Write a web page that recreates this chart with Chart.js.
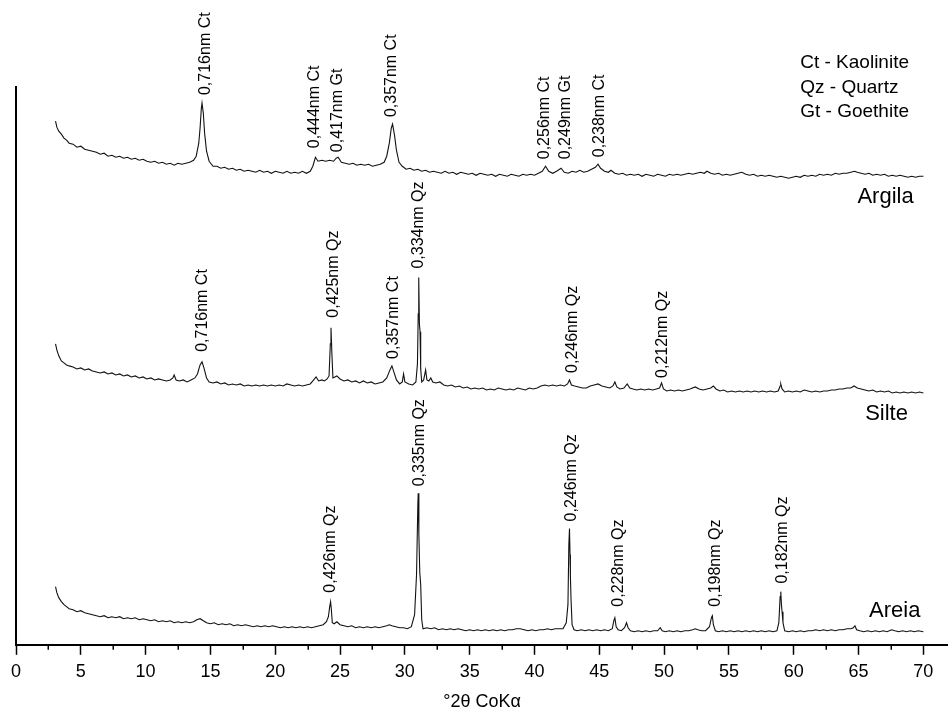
<!DOCTYPE html>
<html lang="pt-BR">
<head>
<meta charset="UTF-8">
<title>DRX - Argila, Silte e Areia</title>
<script src="https://cdn.jsdelivr.net/npm/chart.js@4.4.0/dist/chart.umd.min.js"></script>
<style>
    body { margin: 0; background: #ffffff; }
    #caixa { width: 948px; height: 713px; }
</style>
</head>
<body>
<div id="caixa"><canvas id="graficoDRX"></canvas></div>
<script>
// Difratogramas: [°2θ, intensidade relativa]
let argila = [[3.05,522],[3.15,516],[3.3,512],[3.5,509],[3.7,505],[3.9,503],[4.1,500],[4.4,499],[4.7,496],[5.0,497],[5.3,494],[5.6,493],[5.9,492],[6.2,491],[6.5,489],[6.8,490],[7.1,487],[7.4,488],[7.7,486],[8.0,487],[8.3,485],[8.6,486],[8.9,484],[9.2,485],[9.5,483],[9.8,484],[10.1,482],[10.4,481],[10.7,482],[11.0,480],[11.3,481],[11.6,479],[11.9,480],[12.2,478],[12.5,480],[12.8,479],[13.1,480],[13.4,481],[13.7,483],[13.9,487],[14.1,500],[14.2,515],[14.3,535],[14.35,540],[14.45,530],[14.55,510],[14.7,492],[14.9,482],[15.2,477],[15.5,477],[15.8,475],[16.1,476],[16.4,474],[16.7,475],[17.0,473],[17.3,474],[17.6,472],[17.9,473],[18.2,472],[18.5,471],[18.8,473],[19.1,471],[19.4,472],[19.7,470],[20.0,472],[20.3,471],[20.6,470],[20.9,472],[21.2,470],[21.5,471],[21.8,470],[22.1,472],[22.4,470],[22.7,472],[22.9,477],[23.1,486],[23.3,482],[23.6,483],[23.9,482],[24.2,483],[24.5,482],[24.7,485],[24.85,486],[25.1,481],[25.4,480],[25.7,479],[26.0,480],[26.3,478],[26.6,479],[26.9,478],[27.2,479],[27.5,477],[27.8,478],[28.1,479],[28.4,481],[28.6,487],[28.8,500],[28.95,515],[29.05,519],[29.2,508],[29.35,493],[29.55,481],[29.8,477],[30.1,474],[30.4,475],[30.7,473],[31.0,474],[31.3,472],[31.6,473],[31.9,471],[32.2,472],[32.5,471],[32.8,470],[33.1,472],[33.4,470],[33.7,471],[34.0,469],[34.3,471],[34.6,470],[34.9,469],[35.2,470],[35.5,468],[35.8,470],[36.1,469],[36.4,468],[36.7,469],[37.0,467],[37.3,469],[37.6,468],[37.9,467],[38.2,469],[38.5,468],[38.8,467],[39.1,469],[39.4,468],[39.7,469],[40.0,468],[40.3,470],[40.6,472],[40.85,477],[41.1,472],[41.4,470],[41.7,472],[42.05,475],[42.3,471],[42.6,470],[42.9,472],[43.2,471],[43.5,473],[43.8,471],[44.1,472],[44.4,474],[44.7,476],[44.9,479],[45.1,475],[45.4,472],[45.7,471],[45.9,473],[46.2,470],[46.5,469],[46.8,470],[47.1,468],[47.4,469],[47.7,468],[48.0,469],[48.3,467],[48.6,469],[48.9,468],[49.2,467],[49.5,469],[49.8,468],[50.1,467],[50.4,469],[50.7,468],[51.0,469],[51.3,468],[51.6,469],[51.9,470],[52.2,469],[52.5,470],[52.8,471],[53.1,470],[53.3,472],[53.6,470],[53.9,469],[54.2,470],[54.5,468],[54.8,469],[55.1,468],[55.4,469],[55.7,470],[56.0,471],[56.3,469],[56.6,468],[56.9,469],[57.2,467],[57.5,468],[57.8,467],[58.1,468],[58.4,467],[58.7,466],[59.0,467],[59.3,466],[59.6,465],[59.9,466],[60.2,467],[60.5,466],[60.8,468],[61.1,467],[61.4,468],[61.7,467],[62.0,469],[62.3,468],[62.6,469],[62.9,468],[63.2,470],[63.5,469],[63.8,470],[64.1,470],[64.4,471],[64.7,472],[64.9,471],[65.2,470],[65.5,469],[65.8,470],[66.1,468],[66.4,469],[66.7,468],[67.0,469],[67.3,467],[67.6,468],[67.9,467],[68.2,468],[68.5,467],[68.8,466],[69.1,467],[69.4,466],[69.7,467],[70.0,467]];

let silte = [[3.05,300],[3.15,294],[3.3,288],[3.5,283],[3.7,281],[3.9,279],[4.1,278],[4.4,277],[4.7,275],[5.0,276],[5.3,274],[5.6,275],[5.9,273],[6.2,272],[6.5,271],[6.8,272],[7.1,270],[7.4,271],[7.7,269],[8.0,270],[8.3,268],[8.6,269],[8.9,267],[9.2,268],[9.5,266],[9.8,267],[10.1,265],[10.4,266],[10.7,264],[11.0,265],[11.3,264],[11.6,263],[11.9,264],[12.1,266],[12.2,269],[12.35,264],[12.6,263],[12.9,264],[13.2,262],[13.5,264],[13.8,266],[14.0,270],[14.2,279],[14.35,282],[14.5,276],[14.7,266],[14.9,262],[15.2,261],[15.5,262],[15.8,260],[16.1,261],[16.4,259],[16.7,260],[17.0,259],[17.3,260],[17.6,258],[17.9,259],[18.2,258],[18.5,259],[18.8,258],[19.1,259],[19.4,258],[19.7,259],[20.0,258],[20.3,259],[20.6,258],[20.9,260],[21.2,259],[21.5,258],[21.8,259],[22.1,258],[22.4,259],[22.7,260],[22.9,263],[23.15,267],[23.35,263],[23.6,264],[23.8,263],[24.0,265],[24.15,268],[24.25,300],[24.3,316],[24.37,290],[24.45,266],[24.6,267],[24.75,268],[25.0,265],[25.3,263],[25.6,264],[25.9,262],[26.2,263],[26.5,261],[26.8,263],[27.1,261],[27.4,262],[27.7,260],[28.0,261],[28.3,262],[28.6,266],[28.85,274],[29.0,278],[29.15,272],[29.35,264],[29.6,260],[29.8,262],[29.9,270],[30.0,262],[30.3,260],[30.6,259],[30.85,262],[30.97,280],[31.03,330],[31.07,366],[31.12,320],[31.17,312],[31.22,275],[31.3,262],[31.45,264],[31.6,274],[31.7,264],[31.85,263],[32.0,266],[32.15,262],[32.4,261],[32.7,262],[33.0,259],[33.3,258],[33.6,259],[33.9,257],[34.2,258],[34.5,256],[34.8,257],[35.1,255],[35.4,256],[35.7,255],[36.0,256],[36.3,254],[36.6,255],[36.9,254],[37.2,256],[37.5,255],[37.8,254],[38.1,255],[38.4,254],[38.7,256],[39.0,255],[39.3,254],[39.6,256],[39.9,255],[40.2,256],[40.5,258],[40.8,259],[41.1,258],[41.4,259],[41.7,258],[42.0,259],[42.3,258],[42.55,260],[42.7,264],[42.85,259],[43.1,258],[43.4,257],[43.7,256],[44.0,256],[44.3,258],[44.6,259],[44.9,260],[45.2,258],[45.5,257],[45.8,256],[46.05,258],[46.2,262],[46.35,257],[46.6,255],[46.9,256],[47.15,260],[47.35,256],[47.6,255],[47.9,254],[48.2,255],[48.5,254],[48.8,255],[49.1,254],[49.4,255],[49.65,256],[49.8,261],[49.95,255],[50.2,253],[50.5,254],[50.8,253],[51.1,254],[51.4,253],[51.7,254],[52.0,255],[52.4,257],[52.7,255],[53.0,254],[53.3,255],[53.6,256],[53.8,258],[54.0,255],[54.3,253],[54.6,254],[54.9,252],[55.2,253],[55.5,252],[55.8,253],[56.1,252],[56.4,253],[56.7,252],[57.0,253],[57.3,252],[57.6,253],[57.9,252],[58.2,253],[58.5,252],[58.8,253],[58.95,258],[59.0,260],[59.1,255],[59.3,252],[59.6,253],[59.9,252],[60.2,253],[60.5,252],[60.8,254],[61.1,253],[61.4,252],[61.7,253],[62.0,252],[62.3,253],[62.6,253],[62.9,254],[63.2,254],[63.5,255],[63.8,255],[64.1,256],[64.4,256],[64.65,258],[64.9,256],[65.2,255],[65.5,254],[65.8,253],[66.1,254],[66.4,252],[66.7,253],[67.0,252],[67.3,253],[67.6,251],[67.9,252],[68.2,251],[68.5,252],[68.8,251],[69.1,252],[69.4,251],[69.7,252],[70.0,251]];

let areia = [[3.05,58],[3.15,52],[3.3,47],[3.5,43],[3.7,40],[3.9,38],[4.1,36],[4.4,35],[4.7,33],[5.0,34],[5.3,32],[5.6,31],[5.9,30],[6.2,29],[6.5,28],[6.8,29],[7.1,27],[7.4,28],[7.7,27],[8.0,28],[8.3,26],[8.6,27],[8.9,26],[9.2,27],[9.5,25],[9.8,26],[10.1,25],[10.4,24],[10.7,25],[11.0,23],[11.3,24],[11.6,23],[11.9,24],[12.2,22],[12.5,23],[12.8,22],[13.1,23],[13.4,22],[13.7,23],[13.95,25],[14.2,26],[14.45,24],[14.7,22],[15.0,21],[15.3,22],[15.6,20],[15.9,21],[16.2,20],[16.5,21],[16.8,19],[17.1,20],[17.4,19],[17.7,20],[18.0,19],[18.3,18],[18.6,19],[18.9,18],[19.2,19],[19.5,18],[19.8,19],[20.1,18],[20.4,17],[20.7,18],[21.0,17],[21.3,18],[21.6,17],[21.9,18],[22.2,17],[22.5,18],[22.8,17],[23.1,18],[23.4,19],[23.7,20],[23.95,23],[24.1,28],[24.2,38],[24.27,43],[24.33,35],[24.4,22],[24.55,21],[24.75,23],[25.0,20],[25.3,19],[25.6,18],[25.9,19],[26.2,17],[26.5,18],[26.8,17],[27.1,18],[27.4,17],[27.7,18],[28.0,17],[28.3,18],[28.6,19],[28.8,20],[29.0,19],[29.3,18],[29.6,17],[29.9,17],[30.2,16],[30.5,18],[30.75,30],[30.9,70],[31.0,140],[31.03,151],[31.08,110],[31.15,72],[31.22,60],[31.3,25],[31.4,16],[31.7,17],[32.0,16],[32.3,17],[32.6,15],[32.9,16],[33.2,15],[33.5,16],[33.8,15],[34.1,16],[34.4,15],[34.7,14],[35.0,15],[35.3,14],[35.6,15],[35.9,14],[36.2,15],[36.5,14],[36.8,15],[37.1,14],[37.4,15],[37.7,14],[38.0,15],[38.3,15],[38.6,16],[38.9,16],[39.2,15],[39.5,14],[39.8,15],[40.1,14],[40.4,15],[40.7,15],[41.0,16],[41.3,15],[41.6,16],[41.9,16],[42.2,16],[42.45,22],[42.58,40],[42.65,100],[42.7,116],[42.74,90],[42.77,68],[42.82,45],[42.9,20],[43.05,15],[43.3,14],[43.6,15],[43.9,14],[44.2,15],[44.5,14],[44.8,15],[45.1,14],[45.4,15],[45.7,14],[46.0,16],[46.12,24],[46.2,27],[46.3,18],[46.45,15],[46.7,14],[46.95,17],[47.1,22],[47.22,17],[47.4,14],[47.7,13],[48.0,14],[48.3,13],[48.6,14],[48.9,13],[49.2,14],[49.5,14],[49.7,17],[49.85,14],[50.1,13],[50.4,14],[50.7,13],[51.0,14],[51.3,13],[51.6,14],[51.9,14],[52.2,15],[52.4,16],[52.6,15],[52.9,14],[53.2,14],[53.5,18],[53.65,27],[53.72,29],[53.8,20],[53.95,14],[54.2,13],[54.5,14],[54.8,13],[55.1,14],[55.4,13],[55.7,14],[56.0,13],[56.3,14],[56.6,13],[56.9,14],[57.2,13],[57.5,14],[57.8,13],[58.1,14],[58.4,13],[58.7,14],[58.85,22],[58.95,48],[59.0,53],[59.05,40],[59.1,33],[59.17,22],[59.3,14],[59.6,13],[59.9,14],[60.2,13],[60.5,14],[60.8,13],[61.1,14],[61.4,14],[61.7,15],[62.0,14],[62.3,15],[62.6,14],[62.9,15],[63.2,14],[63.5,15],[63.8,15],[64.1,16],[64.4,16],[64.6,17],[64.72,19],[64.85,15],[65.1,14],[65.4,13],[65.7,14],[66.0,13],[66.3,14],[66.6,13],[66.9,14],[67.2,13],[67.55,15],[67.8,14],[68.1,13],[68.4,14],[68.7,13],[69.0,14],[69.3,13],[69.6,14],[70.0,13]];

// Marcas do eixo x
let xTicks = [0, 5, 10, 15, 20, 25, 30, 35, 40, 45, 50, 55, 60, 65, 70];
let xTicksMenores = [2.5, 7.5, 12.5, 17.5, 22.5, 27.5, 32.5, 37.5, 42.5, 47.5, 52.5, 57.5, 62.5, 67.5];

// Rótulos dos picos: [texto, °2θ, intensidade onde começa o texto]
let picosArgila = [['0,716nm Ct', 14.62, 548], ['0,444nm Ct', 23.03, 495], ['0,417nm Gt', 24.83, 491], ['0,357nm Ct', 29.0, 526], ['0,256nm Ct', 40.78, 484], ['0,249nm Gt', 42.38, 484], ['0,238nm Ct', 45.02, 486]];
let picosSilte = [['0,716nm Ct', 14.41, 292], ['0,425nm Qz', 24.52, 326], ['0,357nm Ct', 29.1, 285], ['0,334nm Qz', 31.03, 375], ['0,246nm Qz', 42.96, 271], ['0,212nm Qz', 49.86, 266]];
let picosAreia = [['0,426nm Qz', 24.27, 52], ['0,335nm Qz', 31.16, 158], ['0,246nm Qz', 42.86, 123], ['0,228nm Qz', 46.47, 38], ['0,198nm Qz', 53.95, 38], ['0,182nm Qz', 59.12, 61]];

// Nomes das amostras: [texto, °2θ (borda direita), intensidade]
let amostras = [['Argila', 69.25, 446], ['Silte', 68.81, 230], ['Areia', 69.77, 34]];

// Legenda dos minerais: [texto, °2θ (borda esquerda), intensidade]
let minerais = [['Ct - Kaolinite', 60.5, 580], ['Qz - Quartz', 60.5, 555], ['Gt - Goethite', 60.5, 531]];

const fonte = '"Liberation Sans", Arial, Helvetica, sans-serif';

const textosDRX = {
    id: 'textosDRX',
    afterDraw(chart) {
        const ctx = chart.ctx;
        const x = chart.scales.x;
        const y = chart.scales.y;
        const base = chart.chartArea.bottom;

        ctx.save();
        // marcas menores do eixo x
        ctx.strokeStyle = '#000';
        ctx.lineWidth = 1.5;
        xTicksMenores.forEach(function (v) {
            let px = Math.round(x.getPixelForValue(v)) + 0.25;
            ctx.beginPath();
            ctx.moveTo(px, base);
            ctx.lineTo(px, base + 5);
            ctx.stroke();
        });

        ctx.fillStyle = '#000';
        // rótulos verticais dos picos
        ctx.font = '16px ' + fonte;
        ctx.textAlign = 'left';
        ctx.textBaseline = 'middle';
        picosArgila.concat(picosSilte, picosAreia).forEach(function (p) {
            ctx.save();
            ctx.translate(x.getPixelForValue(p[1]), y.getPixelForValue(p[2]));
            ctx.rotate(-Math.PI / 2);
            ctx.fillText(p[0], 0, 0);
            ctx.restore();
        });

        // nomes das amostras
        ctx.font = '22px ' + fonte;
        ctx.textAlign = 'right';
        amostras.forEach(function (a) {
            ctx.fillText(a[0], x.getPixelForValue(a[1]), y.getPixelForValue(a[2]));
        });

        // legenda
        ctx.font = '19px ' + fonte;
        ctx.textAlign = 'left';
        minerais.forEach(function (m) {
            ctx.fillText(m[0], x.getPixelForValue(m[1]), y.getPixelForValue(m[2]));
        });
        ctx.restore();
    }
};

function serie(dados) {
    return {
        data: dados,
        borderColor: '#111111',
        borderWidth: 1.1,
        pointRadius: 0,
        tension: 0,
        fill: false
    };
}

Chart.defaults.font.family = fonte;
Chart.defaults.color = '#000000';

const config = {
    type: 'line',
    data: {
        datasets: [serie(argila), serie(silte), serie(areia)]
    },
    options: {
        responsive: true,
        maintainAspectRatio: false,
        animation: false,
        parsing: { xAxisKey: 0, yAxisKey: 1 },
        layout: { padding: { top: 87, left: 16, right: 0, bottom: 0 } },
        plugins: {
            legend: { display: false },
            tooltip: { enabled: false }
        },
        scales: {
            x: {
                type: 'linear',
                min: 0,
                max: 71.9,
                afterBuildTicks: function (escala) {
                    escala.ticks = xTicks.map(function (v) { return { value: v }; });
                },
                ticks: { font: { size: 18 }, color: '#000', padding: 6, maxRotation: 0, autoSkip: false },
                grid: { drawOnChartArea: false, drawTicks: true, tickLength: 10, tickWidth: 1.5, tickColor: '#000' },
                border: { display: true, color: '#000', width: 2 },
                title: { display: true, text: '°2θ CoKα', font: { size: 18 }, color: '#000', padding: { top: 3, bottom: 0 } }
            },
            y: {
                type: 'linear',
                min: 0,
                max: 556,
                ticks: { display: false },
                grid: { display: false, drawTicks: false },
                border: { display: true, color: '#000', width: 2 }
            }
        }
    },
    plugins: [textosDRX]
};

let grafico = new Chart(document.getElementById('graficoDRX'), config);
</script>
</body>
</html>
